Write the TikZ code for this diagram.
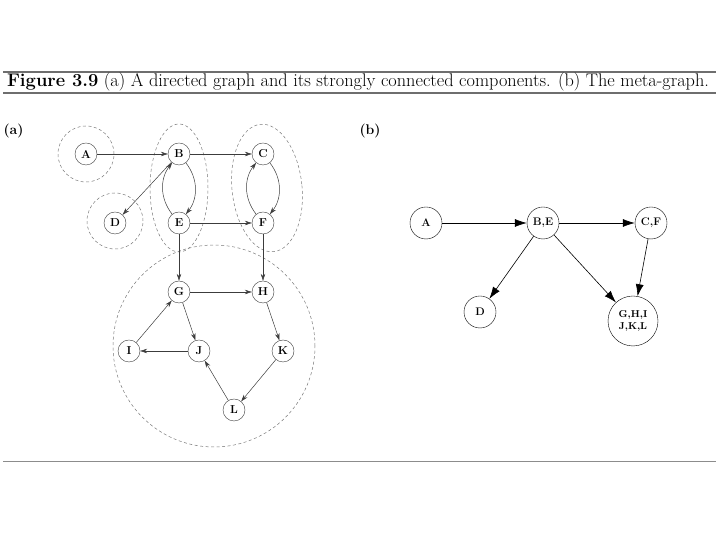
\documentclass[tikz,border=0pt]{standalone}
\usetikzlibrary{arrows.meta,positioning}
\definecolor{rulegray}{RGB}{110,110,110}
\definecolor{edgegray}{RGB}{60,60,60}
\definecolor{sccgray}{RGB}{120,120,120}

\begin{document}
\begin{tikzpicture}[x=1pt, y=1pt,
  vtx/.style={draw=edgegray, circle, minimum size=22pt, inner sep=0pt, font=\fontsize{11.5}{12}\selectfont\bfseries},
  mvtx/.style={draw=black, circle, minimum size=32pt, inner sep=0pt, font=\fontsize{11}{12}\selectfont\bfseries, align=center},
  scc/.style={draw=sccgray, dash pattern=on 3pt off 2.5pt, line width=0.5pt},
  arc/.style={draw=edgegray, line width=0.5pt, -{Stealth[length=7pt, width=4.5pt]}},
  marc/.style={draw=black, line width=0.6pt, -{Latex[length=12pt, width=8pt]}},
  panel/.style={font=\fontsize{14}{16}\selectfont\bfseries, anchor=west}]
  \useasboundingbox (0,0) rectangle (720,540);
  % Caption and rules
  \draw[rulegray, line width=1.4pt] (3,468) -- (716,468);
  \node[font=\fontsize{18.3}{20}\selectfont, inner sep=0pt] (caption) at (358,458) {\textbf{Figure 3.9} (a) A directed graph and its strongly connected components. (b) The meta-graph.};
  \draw[rulegray, line width=1.2pt] (3,447) -- (716,447);
  \draw[black!45, line width=1pt] (3,78) -- (716,78);
  % Panel labels
  \node[panel] (lbla) at (0,409) {(a)};
  \node[panel] (lblb) at (356,409) {(b)};
  % (a) components
  \draw[scc] (86,386) circle (28);
  \draw[scc] (115,319) circle (28);
  \draw[scc] (179,352) ellipse (29 and 64);
  \draw[scc, rotate around={6:(267,352)}] (267,352) ellipse (35 and 64);
  \draw[scc] (214,194) circle (101);
  % (a) vertices
  \node[vtx] (A) at (86,386) {A};
  \node[vtx] (B) at (179,386) {B};
  \node[vtx] (C) at (263,386) {C};
  \node[vtx] (D) at (115,317) {D};
  \node[vtx] (E) at (179,317) {E};
  \node[vtx] (F) at (263,317) {F};
  \node[vtx] (G) at (179,248) {G};
  \node[vtx] (H) at (263,248) {H};
  \node[vtx] (I) at (129,189) {I};
  \node[vtx] (J) at (199,189) {J};
  \node[vtx] (K) at (283,189) {K};
  \node[vtx] (L) at (234,130) {L};
  % (a) edges
  \draw[arc] (A) -- (B);
  \draw[arc] (B) -- (C);
  \draw[arc] (B) -- (D);
  \draw[arc] (B) to[bend left=38] (E);
  \draw[arc] (E) to[bend left=38] (B);
  \draw[arc] (C) to[bend left=38] (F);
  \draw[arc] (F) to[bend left=38] (C);
  \draw[arc] (E) -- (F);
  \draw[arc] (E) -- (G);
  \draw[arc] (F) -- (H);
  \draw[arc] (G) -- (H);
  \draw[arc] (G) -- (J);
  \draw[arc] (H) -- (K);
  \draw[arc] (I) -- (G);
  \draw[arc] (J) -- (I);
  \draw[arc] (L) -- (J);
  \draw[arc] (K) -- (L);
  % (b) meta-graph
  \node[mvtx] (mA) at (426,317) {A};
  \node[mvtx] (mBE) at (543,317) {B,E};
  \node[mvtx] (mCF) at (651,317) {C,F};
  \node[mvtx] (mD) at (480,228) {D};
  \node[mvtx, minimum size=50pt, font=\fontsize{10}{12}\selectfont\bfseries] (mG) at (633,219) {G,H,I\\J,K,L};
  \draw[marc] (mA) -- (mBE);
  \draw[marc] (mBE) -- (mCF);
  \draw[marc] (mBE) -- (mD);
  \draw[marc] (mBE) -- (mG);
  \draw[marc] (mCF) -- (mG);
\end{tikzpicture}
\end{document}
